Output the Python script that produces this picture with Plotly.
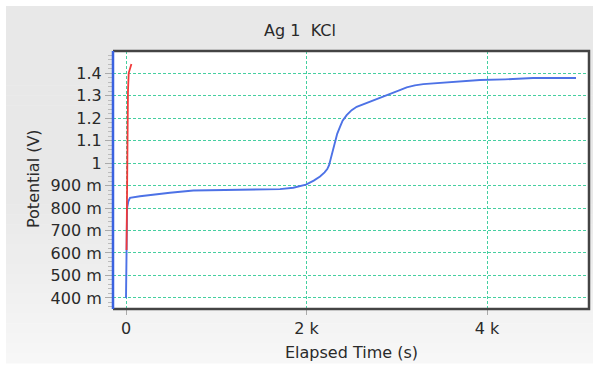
import plotly.graph_objects as go

# ---- data ----
blue_t = [0, 4, 8, 12, 26, 44, 155, 300, 487, 746, 1042, 1400, 1670, 1706, 1853, 1994, 2080, 2150,
          2200, 2230, 2250, 2265, 2279, 2295, 2316, 2340, 2371, 2400, 2445, 2500, 2556, 2650, 2740,
          2830, 2925, 3020, 3110, 3200, 3294, 3471, 3700, 3922, 4200, 4510, 4750, 4986]
blue_v = [0.40, 0.55, 0.72, 0.80, 0.830, 0.845, 0.852, 0.860, 0.868, 0.878, 0.879, 0.880, 0.882, 0.884,
          0.890, 0.904, 0.922, 0.940, 0.958, 0.973, 0.990, 1.013, 1.040, 1.068, 1.097, 1.130, 1.161,
          1.188, 1.213, 1.235, 1.250, 1.264, 1.277, 1.292, 1.307, 1.322, 1.336, 1.345, 1.351, 1.357,
          1.363, 1.369, 1.372, 1.378, 1.378, 1.378]
red_t = [6, 9, 12, 16, 22, 30, 45, 60]
red_v = [0.613, 0.75, 0.95, 1.15, 1.32, 1.40, 1.425, 1.44]

y_tickvals = [0.4, 0.5, 0.6, 0.7, 0.8, 0.9, 1.0, 1.1, 1.2, 1.3, 1.4]
y_ticktext = ["400 m", "500 m", "600 m", "700 m", "800 m", "900 m", "1", "1.1", "1.2", "1.3", "1.4"]
x_tickvals = [0, 2000, 4000]
x_ticktext = ["0", "2 k", "4 k"]

W, H = 599, 369
ML, MR, MT, MB = 113, 10, 51, 60
PW, PH = W - ML - MR, H - MT - MB

def px_x(p):
    return (p - ML) / PW

def px_y(p):
    return 1 - (p - MT) / PH

FONT = "DejaVu Sans"
FS = 16
TXT = "#2a2a2a"
grid_col = "#45cfa0"

fig = go.Figure()
fig.add_trace(go.Scatter(x=blue_t, y=blue_v, mode="lines",
                         line=dict(color="#4d72e6", width=1.9), showlegend=False))
fig.add_trace(go.Scatter(x=red_t, y=red_v, mode="lines",
                         line=dict(color="#f03a3a", width=1.8), showlegend=False))

shapes = []
# grey background panel with a soft vertical gradient
N = 36
top, bot = 6, 363
c0, c1 = 0xe8, 0xf7
for i in range(N):
    y0p = top + (bot - top) * i / N
    y1p = top + (bot - top) * (i + 1) / N
    f = i / (N - 1)
    f = max(0.0, (f - 0.55) / 0.45)
    c = int(round(c0 + (c1 - c0) * f))
    col = "#%02x%02x%02x" % (c, c, c)
    shapes.append(dict(type="rect", xref="paper", yref="paper", layer="below",
                       x0=px_x(6), x1=px_x(593), y0=px_y(y1p + 0.5), y1=px_y(y0p),
                       fillcolor=col, line=dict(width=0)))
# white plot area
shapes.append(dict(type="rect", xref="paper", yref="paper", layer="below",
                   x0=0, x1=1, y0=0, y1=1, fillcolor="white", line=dict(width=0)))
# dark frame top/right/bottom
shapes.append(dict(type="path", xref="paper", yref="paper",
                   path="M 0 1 L 1 1 L 1 0 L 0 0",
                   line=dict(color="#444444", width=2.5)))
# blue left axis
shapes.append(dict(type="line", xref="paper", yref="paper", x0=0, x1=0, y0=0, y1=1,
                   line=dict(color="#3a62e0", width=2.5)))

annotations = [
    dict(text="Potential (V)", xref="paper", yref="paper", x=px_x(33), y=px_y(179),
         xanchor="center", yanchor="middle", textangle=-90, showarrow=False,
         font=dict(family=FONT, size=FS, color=TXT)),
    dict(text="Elapsed Time (s)", xref="paper", yref="paper", x=px_x(351), y=px_y(352),
         xanchor="center", yanchor="middle", showarrow=False,
         font=dict(family=FONT, size=FS, color=TXT)),
]

fig.update_layout(
    width=W, height=H,
    margin=dict(l=ML, r=MR, t=MT, b=MB),
    paper_bgcolor="white", plot_bgcolor="rgba(0,0,0,0)",
    font=dict(family=FONT, size=FS, color=TXT),
    title=dict(text="Ag 1  KCl", x=300 / W, xref="container", xanchor="center",
               y=1 - 30 / H, yref="container", yanchor="middle",
               font=dict(family=FONT, size=FS, color=TXT)),
    shapes=shapes,
    annotations=annotations,
)
fig.update_xaxes(range=[-144, 5130], tickvals=x_tickvals, ticktext=x_ticktext,
                 showgrid=True, gridcolor=grid_col, gridwidth=1, griddash="3px,2px",
                 zeroline=False, showline=False, ticks="outside", ticklen=5,
                 tickcolor="#aaaaaa", tickfont=dict(family=FONT, size=FS, color=TXT))
fig.update_yaxes(range=[0.351, 1.498], tickvals=y_tickvals, ticktext=y_ticktext,
                 showgrid=True, gridcolor=grid_col, gridwidth=1, griddash="3px,2px",
                 zeroline=False, showline=False, ticks="outside", ticklen=7,
                 tickcolor="#aaaaaa",
                 minor=dict(dtick=0.02, tick0=0.4, ticks="outside", ticklen=4, tickcolor="#bbbbbb",
                            showgrid=False),
                 tickfont=dict(family=FONT, size=FS, color=TXT))

fig.write_html("out.html")
